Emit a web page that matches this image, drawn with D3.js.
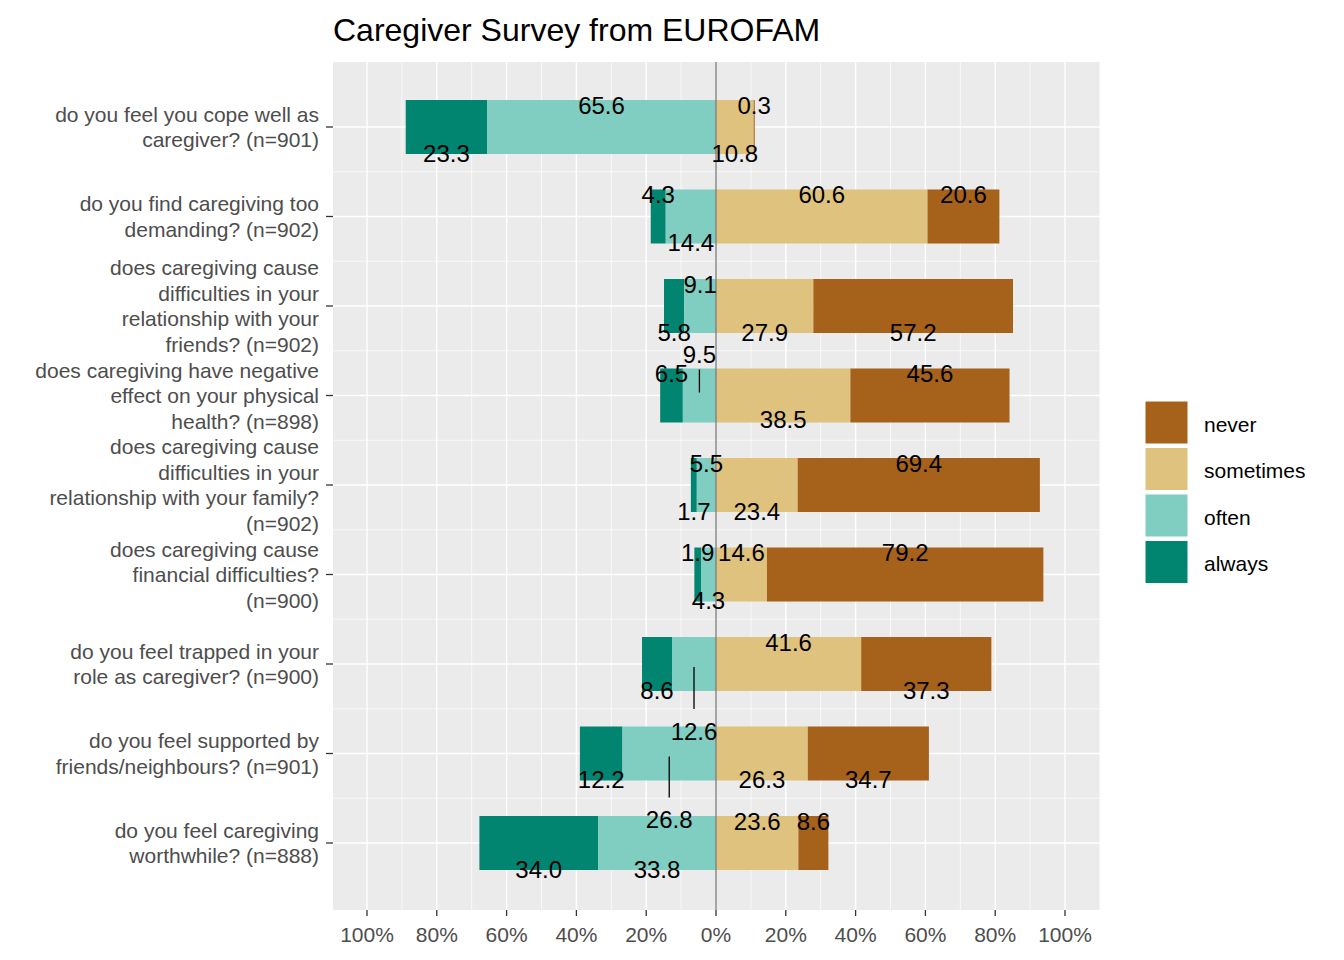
<!DOCTYPE html>
<html><head><meta charset="utf-8">
<script src="https://cdn.jsdelivr.net/npm/d3@7"></script>
<style>body{margin:0;background:#fff}text{font-family:Arial,"Liberation Sans",sans-serif}</style>
</head><body><svg id="c" width="1344" height="960"></svg>
<script>
const questions = [
 ["do you feel you cope well as","caregiver? (n=901)"],
 ["do you find caregiving too","demanding? (n=902)"],
 ["does caregiving cause","difficulties in your","relationship with your","friends? (n=902)"],
 ["does caregiving have negative","effect on your physical","health? (n=898)"],
 ["does caregiving cause","difficulties in your","relationship with your family?","(n=902)"],
 ["does caregiving cause","financial difficulties?","(n=900)"],
 ["do you feel trapped in your","role as caregiver? (n=900)"],
 ["do you feel supported by","friends/neighbours? (n=901)"],
 ["do you feel caregiving","worthwhile? (n=888)"]
];
const always    = [23.3,4.3,5.8,6.5,1.7,1.9,8.6,12.2,34.0];
const often     = [65.6,14.4,9.1,9.5,5.5,4.3,12.6,26.8,33.8];
const sometimes = [10.8,60.6,27.9,38.5,23.4,14.6,41.6,26.3,23.6];
const never     = [0.3,20.6,57.2,45.6,69.4,79.2,37.3,34.7,8.6];
// label vertical offsets (px from row centre), order: always, often, sometimes, never
const labelDy = [
 [26,-22,26,-22],[-22,26,-22,-22],[26,-22,26,26],[-22,-41,24,-22],[26,-22,26,-22],
 [-22,26,-22,-22],[26,67,-22,26],[26,66,26,26],[26,26,-22,-22]];
const xTicks = [-100,-80,-60,-40,-20,0,20,40,60,80,100];
const cats = ["never","sometimes","often","always"];
const colors = {never:"#A6611A",sometimes:"#DFC27D",often:"#80CDC1",always:"#018571"};

const svg = d3.select("#c");
const L=333,R=1100,T=62,B=910;
const x = d3.scaleLinear().domain([-100,100]).range([367,1065]);
const y = d3.scaleLinear().domain([0,8]).range([127,843]);
const bw = 54;
const cy = i=>y(i);
svg.append("rect").attr("x",L).attr("y",T).attr("width",R-L).attr("height",B-T).attr("fill","#EBEBEB");
const g = svg.append("g");
d3.range(-110,111,10).forEach(v=>{ if(x(v)>=L&&x(v)<=R) g.append("line").attr("x1",x(v)).attr("x2",x(v)).attr("y1",T).attr("y2",B).attr("stroke","#fff").attr("stroke-width",v%20===0?1.4:0.7);});
d3.range(9).forEach(i=>{
 g.append("line").attr("x1",L).attr("x2",R).attr("y1",cy(i)).attr("y2",cy(i)).attr("stroke","#fff").attr("stroke-width",1.4);
 if(i<8) g.append("line").attr("x1",L).attr("x2",R).attr("y1",(cy(i)+cy(i+1))/2).attr("y2",(cy(i)+cy(i+1))/2).attr("stroke","#fff").attr("stroke-width",0.7);
});
d3.range(9).forEach(i=>{
 const segs=[["always",-(often[i]+always[i]),-often[i]],["often",-often[i],0],["sometimes",0,sometimes[i]],["never",sometimes[i],sometimes[i]+never[i]]];
 segs.forEach(([k,a,b])=>g.append("rect").attr("x",x(a)).attr("y",cy(i)-bw/2).attr("width",x(b)-x(a)).attr("height",bw).attr("fill",colors[k]));
});
svg.append("line").attr("x1",x(0)).attr("x2",x(0)).attr("y1",T).attr("y2",B).attr("stroke","#808080").attr("stroke-width",1.4);
d3.range(9).forEach(i=>{
 const vals=[always[i],often[i],sometimes[i],never[i]];
 const mids=[-(often[i]+always[i]/2),-often[i]/2,sometimes[i]/2,sometimes[i]+never[i]/2];
 vals.forEach((v,j)=>{
  const dy=labelDy[i][j], px=x(mids[j]);
  if(Math.abs(dy)>30){
   svg.append("line").attr("x1",px).attr("x2",px).attr("y1",dy<0?cy(i)-26:cy(i)+3).attr("y2",dy<0?cy(i)-3:cy(i)+dy-22).attr("stroke","#000").attr("stroke-width",1.3);
  }
  svg.append("text").attr("x",px).attr("y",cy(i)+dy).attr("text-anchor","middle").attr("dominant-baseline","central").attr("font-size",24).attr("fill","#000").text(v.toFixed(1));
 });
 const lines=questions[i], lh=25.5, start=cy(i)-(lines.length-1)*lh/2;
 lines.forEach((t,k)=>svg.append("text").attr("x",319).attr("y",start+k*lh).attr("text-anchor","end").attr("dominant-baseline","central").attr("font-size",21).attr("fill","#4D4D4D").text(t));
 svg.append("line").attr("x1",326).attr("x2",333).attr("y1",cy(i)).attr("y2",cy(i)).attr("stroke","#333").attr("stroke-width",1.3);
});
xTicks.forEach(v=>{
 svg.append("line").attr("x1",x(v)).attr("x2",x(v)).attr("y1",B).attr("y2",B+6).attr("stroke","#333").attr("stroke-width",1.3);
 svg.append("text").attr("x",x(v)).attr("y",934).attr("text-anchor","middle").attr("dominant-baseline","central").attr("font-size",21).attr("fill","#4D4D4D").text(Math.abs(v)+"%");
});
svg.append("text").attr("x",333).attr("y",30).attr("dominant-baseline","central").attr("font-size",32).attr("fill","#000").text("Caregiver Survey from EUROFAM");
cats.forEach((k,i)=>{
 const yy=401+i*46.5;
 svg.append("rect").attr("x",1145).attr("y",yy).attr("width",43).attr("height",43).attr("fill",colors[k]).attr("stroke","#fff").attr("stroke-width",1);
 svg.append("text").attr("x",1204).attr("y",yy+23).attr("dominant-baseline","central").attr("font-size",21).attr("fill","#000").text(k);
});
</script></body></html>
